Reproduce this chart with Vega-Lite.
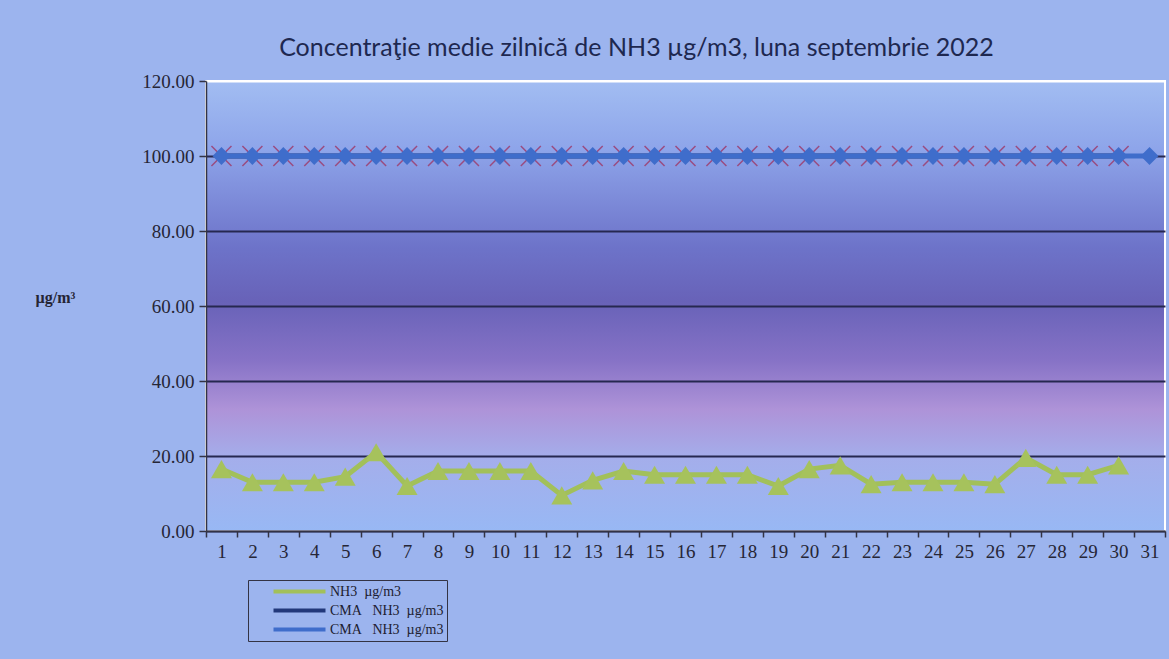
{
  "$schema": "https://vega.github.io/schema/vega-lite/v6.json",
  "width": 959,
  "height": 450,
  "autosize": {"type": "none"},
  "padding": {"left": 206, "top": 81, "right": 4, "bottom": 128},
  "background": "#9CB4EE",
  "title": {
    "text": "Concentraţie medie zilnică de NH3 µg/m3, luna  septembrie 2022",
    "font": "Lato",
    "fontSize": 25,
    "fontWeight": "normal",
    "color": "#1E2850",
    "anchor": "middle",
    "dx": -49,
    "offset": 11
  },
  "config": {
    "view": {
      "stroke": "white",
      "strokeWidth": 2,
      "fill": {
        "gradient": "linear",
        "x1": 0, "y1": 0, "x2": 0, "y2": 1,
        "stops": [
          {"offset": 0, "color": "#A2BDF2"},
          {"offset": 0.15, "color": "#8EA5EA"},
          {"offset": 0.37, "color": "#6D73C9"},
          {"offset": 0.49, "color": "#6862B8"},
          {"offset": 0.62, "color": "#8672C6"},
          {"offset": 0.73, "color": "#AE93D8"},
          {"offset": 0.84, "color": "#A4AEEB"},
          {"offset": 1, "color": "#98B8F4"}
        ]
      }
    },
    "axis": {
      "labelFont": "Liberation Serif",
      "labelFontSize": 19,
      "labelColor": "#262636",
      "domainColor": "#333344",
      "domainWidth": 1.5,
      "tickColor": "#333344",
      "tickWidth": 1.5,
      "titleFont": "Liberation Serif"
    }
  },
  "data": {
    "values": [
      {"day": 1, "series": "NH3", "value": 16.5},
      {"day": 2, "series": "NH3", "value": 13},
      {"day": 3, "series": "NH3", "value": 13},
      {"day": 4, "series": "NH3", "value": 13},
      {"day": 5, "series": "NH3", "value": 14.5},
      {"day": 6, "series": "NH3", "value": 21},
      {"day": 7, "series": "NH3", "value": 12},
      {"day": 8, "series": "NH3", "value": 16},
      {"day": 9, "series": "NH3", "value": 16},
      {"day": 10, "series": "NH3", "value": 16},
      {"day": 11, "series": "NH3", "value": 16},
      {"day": 12, "series": "NH3", "value": 9.5},
      {"day": 13, "series": "NH3", "value": 13.5},
      {"day": 14, "series": "NH3", "value": 16},
      {"day": 15, "series": "NH3", "value": 15},
      {"day": 16, "series": "NH3", "value": 15},
      {"day": 17, "series": "NH3", "value": 15},
      {"day": 18, "series": "NH3", "value": 15},
      {"day": 19, "series": "NH3", "value": 12},
      {"day": 20, "series": "NH3", "value": 16.5},
      {"day": 21, "series": "NH3", "value": 17.5},
      {"day": 22, "series": "NH3", "value": 12.5},
      {"day": 23, "series": "NH3", "value": 13},
      {"day": 24, "series": "NH3", "value": 13},
      {"day": 25, "series": "NH3", "value": 13},
      {"day": 26, "series": "NH3", "value": 12.5},
      {"day": 27, "series": "NH3", "value": 19.5},
      {"day": 28, "series": "NH3", "value": 15},
      {"day": 29, "series": "NH3", "value": 15},
      {"day": 30, "series": "NH3", "value": 17.5},
      {"day": 1, "series": "CMA1", "value": 100},
      {"day": 2, "series": "CMA1", "value": 100},
      {"day": 3, "series": "CMA1", "value": 100},
      {"day": 4, "series": "CMA1", "value": 100},
      {"day": 5, "series": "CMA1", "value": 100},
      {"day": 6, "series": "CMA1", "value": 100},
      {"day": 7, "series": "CMA1", "value": 100},
      {"day": 8, "series": "CMA1", "value": 100},
      {"day": 9, "series": "CMA1", "value": 100},
      {"day": 10, "series": "CMA1", "value": 100},
      {"day": 11, "series": "CMA1", "value": 100},
      {"day": 12, "series": "CMA1", "value": 100},
      {"day": 13, "series": "CMA1", "value": 100},
      {"day": 14, "series": "CMA1", "value": 100},
      {"day": 15, "series": "CMA1", "value": 100},
      {"day": 16, "series": "CMA1", "value": 100},
      {"day": 17, "series": "CMA1", "value": 100},
      {"day": 18, "series": "CMA1", "value": 100},
      {"day": 19, "series": "CMA1", "value": 100},
      {"day": 20, "series": "CMA1", "value": 100},
      {"day": 21, "series": "CMA1", "value": 100},
      {"day": 22, "series": "CMA1", "value": 100},
      {"day": 23, "series": "CMA1", "value": 100},
      {"day": 24, "series": "CMA1", "value": 100},
      {"day": 25, "series": "CMA1", "value": 100},
      {"day": 26, "series": "CMA1", "value": 100},
      {"day": 27, "series": "CMA1", "value": 100},
      {"day": 28, "series": "CMA1", "value": 100},
      {"day": 29, "series": "CMA1", "value": 100},
      {"day": 30, "series": "CMA1", "value": 100},
      {"day": 1, "series": "CMA2", "value": 100},
      {"day": 2, "series": "CMA2", "value": 100},
      {"day": 3, "series": "CMA2", "value": 100},
      {"day": 4, "series": "CMA2", "value": 100},
      {"day": 5, "series": "CMA2", "value": 100},
      {"day": 6, "series": "CMA2", "value": 100},
      {"day": 7, "series": "CMA2", "value": 100},
      {"day": 8, "series": "CMA2", "value": 100},
      {"day": 9, "series": "CMA2", "value": 100},
      {"day": 10, "series": "CMA2", "value": 100},
      {"day": 11, "series": "CMA2", "value": 100},
      {"day": 12, "series": "CMA2", "value": 100},
      {"day": 13, "series": "CMA2", "value": 100},
      {"day": 14, "series": "CMA2", "value": 100},
      {"day": 15, "series": "CMA2", "value": 100},
      {"day": 16, "series": "CMA2", "value": 100},
      {"day": 17, "series": "CMA2", "value": 100},
      {"day": 18, "series": "CMA2", "value": 100},
      {"day": 19, "series": "CMA2", "value": 100},
      {"day": 20, "series": "CMA2", "value": 100},
      {"day": 21, "series": "CMA2", "value": 100},
      {"day": 22, "series": "CMA2", "value": 100},
      {"day": 23, "series": "CMA2", "value": 100},
      {"day": 24, "series": "CMA2", "value": 100},
      {"day": 25, "series": "CMA2", "value": 100},
      {"day": 26, "series": "CMA2", "value": 100},
      {"day": 27, "series": "CMA2", "value": 100},
      {"day": 28, "series": "CMA2", "value": 100},
      {"day": 29, "series": "CMA2", "value": 100},
      {"day": 30, "series": "CMA2", "value": 100},
      {"day": 31, "series": "CMA2", "value": 100}
    ]
  },
  "encoding": {
    "x": {
      "field": "day",
      "type": "ordinal",
      "scale": {"paddingInner": 0, "paddingOuter": 0},
      "axis": {
        "title": null,
        "labelAngle": 0,
        "tickBand": "extent",
        "tickSize": 6,
        "labelPadding": 5,
        "grid": false
      }
    },
    "y": {
      "field": "value",
      "type": "quantitative",
      "scale": {"domain": [0, 120], "nice": false},
      "axis": {
        "values": [0, 20, 40, 60, 80, 100, 120],
        "format": ".2f",
        "tickSize": 7,
        "labelPadding": 5,
        "grid": true,
        "gridColor": {"condition": {"test": "datum.value == 120", "value": "white"}, "value": "#262850"},
        "gridWidth": 1.8,
        "title": "µg/m³",
        "titleAngle": 0,
        "titleAlign": "center",
        "titleBaseline": "middle",
        "titleX": -151,
        "titleY": 216,
        "titleFontSize": 16,
        "titleFontWeight": "bold",
        "titleColor": "#252535"
      }
    }
  },
  "layer": [
    {
      "mark": {"type": "line", "strokeWidth": 5},
      "encoding": {
        "color": {
          "field": "series",
          "type": "nominal",
          "scale": {"domain": ["NH3", "CMA1", "CMA2"], "range": ["#A2C05A", "#22387A", "#3F6DCB"]},
          "legend": {
            "title": null,
            "orient": "none",
            "legendX": 42,
            "legendY": 499,
            "symbolType": "M-4,0H4",
            "symbolSize": 169,
            "symbolStrokeWidth": 4,
            "symbolOffset": 40,
            "labelOffset": 22,
            "labelFont": "Liberation Serif",
            "labelFontSize": 14,
            "labelColor": "#202030",
            "labelExpr": "datum.label == 'NH3' ? '\u2007\u2007NH3\u00a0\u00a0µg/m3' : 'CMA\u00a0\u00a0\u00a0NH3\u00a0\u00a0µg/m3'",
            "rowPadding": 2,
            "padding": 3,
            "strokeColor": "#333344",
            "fillColor": null
          }
        }
      }
    },
    {
      "transform": [{"filter": "datum.series == 'CMA1'"}],
      "mark": {"type": "point", "shape": "M-1,-1L1,1M-1,1L1,-1", "size": 400, "filled": false, "stroke": "#9A4C80", "strokeWidth": 1.5, "opacity": 1}
    },
    {
      "transform": [{"filter": "datum.series == 'CMA2'"}],
      "mark": {"type": "point", "shape": "diamond", "size": 320, "filled": true, "color": "#3F6DCB", "opacity": 1}
    },
    {
      "transform": [{"filter": "datum.series == 'NH3'"}],
      "mark": {"type": "point", "shape": "triangle-up", "size": 440, "filled": true, "color": "#A6C25C", "opacity": 1}
    }
  ]
}
